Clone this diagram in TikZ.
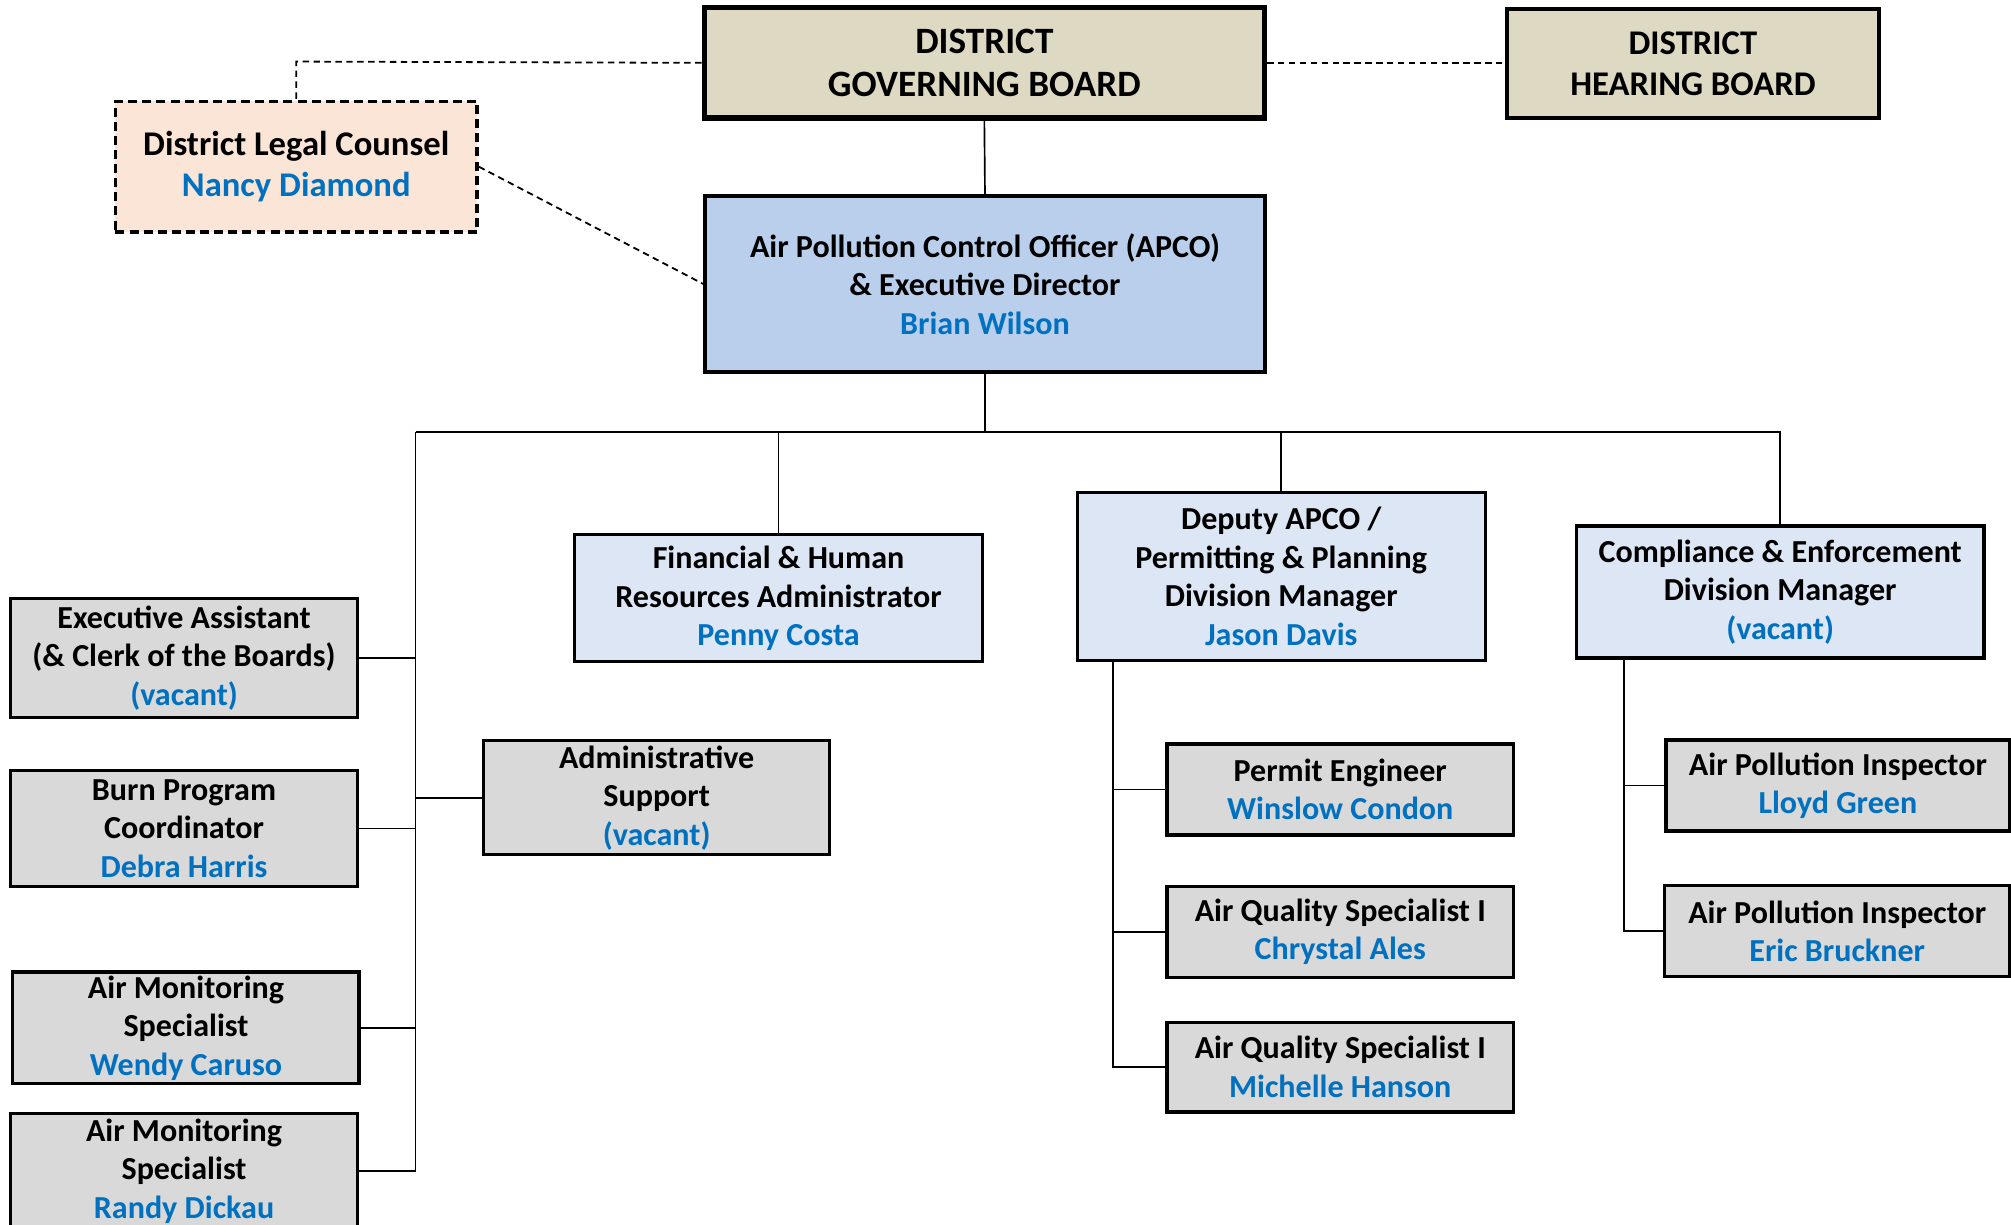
\documentclass[tikz,border=0pt]{standalone}
\usepackage{fontspec}
\setmainfont{Carlito}
\definecolor{tanfill}{HTML}{DDD9C3}
\definecolor{peachfill}{HTML}{FAE5D6}
\definecolor{apcofill}{HTML}{B9CFEC}
\definecolor{divfill}{HTML}{DCE6F4}
\definecolor{grayfill}{HTML}{D9D9D9}
\definecolor{nameblue}{HTML}{0070C0}
\newcommand{\nm}[1]{\textcolor{nameblue}{#1}}
\begin{document}
\begin{tikzpicture}[x=1pt,y=-1pt,
  orgbox/.style={draw=black, line width=2.6pt, rectangle, align=center, inner sep=0pt,
     font=\bfseries\fontsize{25}{30}\selectfont},
  boardbox/.style={orgbox, fill=tanfill, font=\bfseries\fontsize{29}{33}\selectfont},
  graybox/.style={orgbox, fill=grayfill},
  divbox/.style={orgbox, fill=divfill},
  conn/.style={draw=black, line width=1.3pt},
  dconn/.style={draw=black, line width=1.4pt, dash pattern=on 5pt off 3.5pt}]
\clip (0,0) rectangle (1568,955);
\fill[white] (0,0) rectangle (1568,955);

% top level
\node[boardbox, line width=4pt, minimum width=437pt, minimum height=86pt] (gov) at (767.5,49) {DISTRICT\\GOVERNING BOARD};
\node[boardbox, line width=3pt, minimum width=290pt, minimum height=85pt, font=\bfseries\fontsize{27}{32}\selectfont] (hear) at (1320,49.5) {DISTRICT\\HEARING BOARD};
\node[orgbox, fill=peachfill, line width=2.8pt, dash pattern=on 7pt off 4pt, minimum width=282pt, minimum height=102pt, font=\bfseries\fontsize{27}{32}\selectfont] (legal) at (231,130) {\raisebox{-3pt}{District Legal Counsel}\\\raisebox{-3pt}{\nm{Nancy Diamond}}};
\node[orgbox, fill=apcofill, line width=3pt, minimum width=436pt, minimum height=137pt] (apco) at (768,221.5) {Air Pollution Control Officer (APCO)\\\& Executive Director\\\nm{Brian Wilson}};

% divisions
\node[divbox, minimum width=318pt, minimum height=99pt] (fin) at (607,466.5) {Financial \& Human\\Resources Administrator\\\nm{Penny Costa}};
\node[divbox, minimum width=318pt, minimum height=131pt] (dep) at (999,449.5) {Deputy APCO /\\Permitting \& Planning\\Division Manager\\\nm{Jason Davis}};
\node[divbox, minimum width=318pt, minimum height=103pt] (comp) at (1388,461.5) {Compliance \& Enforcement\\Division Manager\\\nm{(vacant)}};

% left staff
\node[graybox, minimum width=271pt, minimum height=93pt] (exec) at (143.5,513) {Executive Assistant\\(\& Clerk of the Boards)\\\nm{(vacant)}};
\node[graybox, minimum width=271pt, minimum height=90pt] (burn) at (143.5,646) {Burn Program\\Coordinator\\\nm{Debra Harris}};
\node[graybox, minimum width=270pt, minimum height=89pt] (admin) at (512,622) {Administrative\\Support\\\nm{(vacant)}};
\node[graybox, minimum width=270pt, minimum height=87pt] (wendy) at (145,801.5) {Air Monitoring\\Specialist\\\nm{Wendy Caruso}};
\node[graybox, minimum width=271pt, minimum height=90pt] (randy) at (143.5,913) {Air Monitoring\\Specialist\\\nm{Randy Dickau}};

% permitting staff
\node[graybox, minimum width=270pt, minimum height=71pt] (permit) at (1045,615.5) {Permit Engineer\\\nm{Winslow Condon}};
\node[graybox, minimum width=270pt, minimum height=71pt] (aqs1) at (1045,726.5) {Air Quality Specialist I\\\nm{Chrystal Ales}};
\node[graybox, minimum width=270pt, minimum height=70pt] (aqs2) at (1045,832) {Air Quality Specialist I\\\nm{Michelle Hanson}};

% compliance staff
\node[graybox, minimum width=268pt, minimum height=71pt] (api1) at (1433,612.5) {Air Pollution Inspector\\\nm{Lloyd Green}};
\node[graybox, minimum width=269pt, minimum height=71pt] (api2) at (1432.5,726) {Air Pollution Inspector\\\nm{Eric Bruckner}};

% coordinates
\coordinate (busL) at (324,337);
\coordinate (busR) at (1388,337);
\coordinate (busC) at (768,337);
\coordinate (legalTop) at (231,48);
\coordinate (depX) at (868,515);
\coordinate (compX) at (1266,513);

% connectors
\draw[conn] (gov.south) -- (apco.north);
\draw[dconn] (gov.west) -- (legalTop) -- (legal.north);
\draw[dconn] (gov.east) -- (hear.west |- gov.east);
\draw[dconn] (legal.east) -- (apco.west);

\draw[conn] (apco.south) -- (busC);
\draw[conn] (busL) -- (busR) -- (comp.north);
\draw[conn] (fin.north) -- (fin.north |- busC);
\draw[conn] (dep.north) -- (dep.north |- busC);
\draw[conn] (busL) -- (324,912);
\draw[conn] (exec.east) -- (exec.east -| busL);
\draw[conn] (burn.east) -- (burn.east -| busL);
\draw[conn] (admin.west) -- (admin.west -| busL);
\draw[conn] (wendy.east) -- (wendy.east -| busL);
\draw[conn] (randy.east) -- (randy.east -| busL);

\draw[conn] (depX) |- (aqs2.west);
\draw[conn] (permit.west) -- (permit.west -| depX);
\draw[conn] (aqs1.west) -- (aqs1.west -| depX);

\draw[conn] (compX) |- (api2.west);
\draw[conn] (api1.west) -- (api1.west -| compX);
\end{tikzpicture}
\end{document}
